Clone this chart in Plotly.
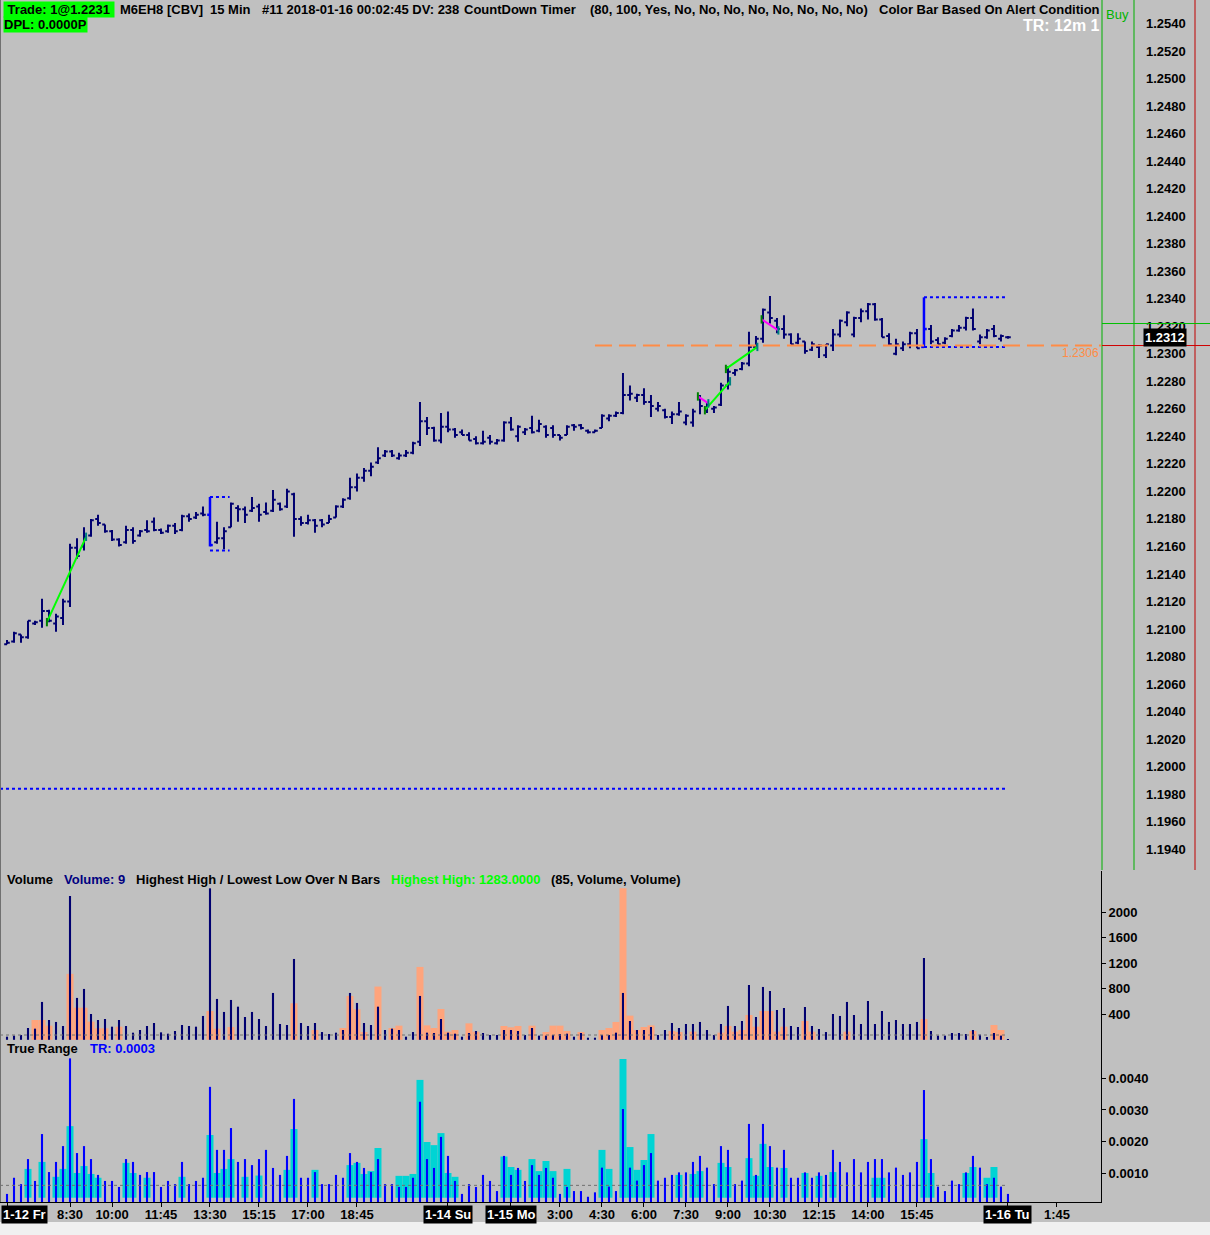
import plotly.graph_objects as go

# ---------------- data ----------------
bars = list(range(144))

opens = [
1.2089,1.2091,1.2096,1.2094,1.2104,1.2106,1.2113,1.2104,1.2108,1.2120,
1.2159,1.2160,1.2168,1.2180,1.2176,1.2171,1.2165,1.2163,1.2172,1.2168,
1.2172,1.2178,1.2172,1.2171,1.2175,1.2172,1.2182,1.2181,1.2184,1.2183,
1.2163,1.2166,1.2174,1.2188,1.2187,1.2186,1.2189,1.2185,1.2186,1.2191,
1.2189,1.2198,1.2180,1.2177,1.2179,1.2179,1.2177,1.2181,1.2189,1.2195,
1.2203,1.2210,1.2215,1.2221,1.2226,1.2229,1.2224,1.2226,1.2228,1.2236,
1.2251,1.2246,1.2237,1.2247,1.2245,1.2243,1.2241,1.2238,1.2235,1.2239,
1.2235,1.2237,1.2250,1.2240,1.2243,1.2246,1.2244,1.2247,1.2246,1.2241,
1.2241,1.2248,1.2248,1.2244,1.2243,1.2246,1.2253,1.2255,1.2257,1.2270,
1.2268,1.2270,1.2265,1.2260,1.2259,1.2254,1.2256,1.2250,1.2250,1.2269,
1.2259,1.2260,1.2263,1.2277,1.2286,1.2289,1.2293,1.2305,1.2311,1.2330,
1.2324,1.2318,1.2314,1.2308,1.2309,1.2303,1.2305,1.2299,1.2306,1.2314,
1.2323,1.2314,1.2326,1.2331,1.2336,1.2325,1.2313,1.2300,1.2304,1.2307,
1.2315,1.2305,1.2318,1.2310,1.2308,1.2313,1.2317,1.2319,1.2326,1.2309,
1.2312,1.2318,1.2311,1.2312]
highs = [
1.2092,1.2098,1.2096,1.2106,1.2106,1.2122,1.2114,1.2111,1.2122,1.2162,
1.2166,1.2174,1.2180,1.2183,1.2176,1.2172,1.2166,1.2175,1.2174,1.2172,
1.2179,1.2181,1.2173,1.2176,1.2177,1.2183,1.2184,1.2185,1.2189,1.2196,
1.2178,1.2174,1.2192,1.2190,1.2189,1.2196,1.2191,1.2192,1.2201,1.2192,
1.2202,1.2199,1.2182,1.2183,1.2180,1.2180,1.2183,1.2190,1.2195,1.2210,
1.2213,1.2217,1.2221,1.2232,1.2230,1.2230,1.2228,1.2230,1.2236,1.2265,
1.2254,1.2247,1.2257,1.2258,1.2246,1.2245,1.2243,1.2240,1.2244,1.2241,
1.2238,1.2251,1.2254,1.2248,1.2246,1.2255,1.2252,1.2248,1.2248,1.2241,
1.2248,1.2249,1.2249,1.2245,1.2245,1.2256,1.2256,1.2258,1.2286,1.2277,
1.2271,1.2275,1.2270,1.2265,1.2260,1.2258,1.2265,1.2256,1.2260,1.2270,
1.2265,1.2262,1.2279,1.2291,1.2289,1.2294,1.2316,1.2313,1.2333,1.2342,
1.2326,1.2328,1.2315,1.2315,1.2309,1.2309,1.2307,1.2307,1.2318,1.2325,
1.2331,1.2327,1.2333,1.2337,1.2337,1.2326,1.2315,1.2311,1.2309,1.2316,
1.2318,1.2341,1.2321,1.2312,1.2312,1.2318,1.2321,1.2327,1.2333,1.2314,
1.2318,1.2321,1.2314,1.2313]
lows = [
1.2089,1.2090,1.2090,1.2093,1.2103,1.2101,1.2105,1.2098,1.2103,1.2116,
1.2151,1.2157,1.2167,1.2175,1.2170,1.2164,1.2160,1.2162,1.2162,1.2167,
1.2170,1.2171,1.2169,1.2170,1.2169,1.2171,1.2178,1.2180,1.2182,1.2160,
1.2162,1.2158,1.2174,1.2178,1.2177,1.2185,1.2178,1.2183,1.2185,1.2186,
1.2188,1.2167,1.2175,1.2176,1.2170,1.2174,1.2177,1.2181,1.2188,1.2194,
1.2200,1.2207,1.2211,1.2220,1.2225,1.2225,1.2223,1.2225,1.2227,1.2233,
1.2241,1.2236,1.2235,1.2243,1.2239,1.2241,1.2237,1.2234,1.2234,1.2234,
1.2234,1.2236,1.2244,1.2236,1.2241,1.2242,1.2243,1.2239,1.2239,1.2237,
1.2241,1.2244,1.2245,1.2242,1.2243,1.2246,1.2251,1.2254,1.2256,1.2266,
1.2265,1.2263,1.2254,1.2258,1.2253,1.2249,1.2255,1.2248,1.2247,1.2256,
1.2257,1.2257,1.2262,1.2274,1.2284,1.2288,1.2291,1.2304,1.2308,1.2322,
1.2315,1.2311,1.2307,1.2307,1.2300,1.2302,1.2297,1.2297,1.2302,1.2312,
1.2320,1.2312,1.2323,1.2325,1.2324,1.2312,1.2306,1.2299,1.2302,1.2304,
1.2304,1.2305,1.2307,1.2307,1.2307,1.2312,1.2316,1.2317,1.2317,1.2307,
1.2311,1.2312,1.2309,1.2311]
closes = [
1.2090,1.2097,1.2094,1.2106,1.2105,1.2113,1.2106,1.2109,1.2120,1.2159,
1.2153,1.2167,1.2179,1.2177,1.2171,1.2165,1.2161,1.2172,1.2164,1.2171,
1.2171,1.2172,1.2170,1.2175,1.2171,1.2182,1.2180,1.2183,1.2183,1.2161,
1.2166,1.2171,1.2191,1.2187,1.2183,1.2188,1.2183,1.2184,1.2194,1.2187,
1.2200,1.2180,1.2177,1.2179,1.2175,1.2176,1.2180,1.2189,1.2194,1.2203,
1.2210,1.2215,1.2218,1.2224,1.2229,1.2226,1.2226,1.2228,1.2235,1.2251,
1.2246,1.2237,1.2247,1.2245,1.2241,1.2241,1.2237,1.2235,1.2236,1.2236,
1.2237,1.2250,1.2245,1.2247,1.2245,1.2243,1.2249,1.2241,1.2241,1.2239,
1.2247,1.2247,1.2246,1.2243,1.2244,1.2255,1.2255,1.2257,1.2270,1.2271,
1.2270,1.2265,1.2262,1.2262,1.2254,1.2256,1.2258,1.2255,1.2258,1.2262,
1.2263,1.2261,1.2277,1.2287,1.2288,1.2293,1.2305,1.2311,1.2332,1.2326,
1.2318,1.2314,1.2307,1.2311,1.2302,1.2307,1.2306,1.2307,1.2314,1.2324,
1.2330,1.2326,1.2331,1.2336,1.2325,1.2312,1.2307,1.2307,1.2307,1.2315,
1.2304,1.2318,1.2309,1.2307,1.2311,1.2317,1.2319,1.2326,1.2318,1.2312,
1.2317,1.2313,1.2313,1.2312]
alert_bars = [29, 131]          # bars painted blue

volume = [
49,65,75,185,175,594,311,280,217,2256,
657,798,405,311,326,206,311,217,112,154,
217,264,117,96,138,232,217,206,374,2376,
641,437,625,520,358,437,326,217,735,248,
232,1268,264,217,264,122,91,112,154,735,
578,264,232,520,154,175,154,49,122,688,
112,107,326,112,96,49,107,138,107,75,
75,154,154,138,75,185,65,65,75,91,
96,49,107,33,33,75,75,112,735,295,
154,154,201,75,154,264,185,248,248,280,
154,75,248,531,217,295,860,358,829,766,
468,499,217,201,515,217,170,122,405,374,
594,389,248,609,248,452,280,311,248,248,
280,1283,138,65,65,107,107,91,154,80,
44,107,65,9]
volume_alert = [
0,0,0,0,311,311,222,0,0,1034,
504,504,285,180,180,0,206,0,0,0,
0,0,0,0,0,0,0,0,0,452,
175,0,201,0,0,0,0,0,0,0,
0,573,0,0,154,0,0,0,185,688,
478,122,0,835,0,185,222,0,0,1143,
227,185,483,128,154,0,258,128,0,0,
0,217,196,217,0,222,0,122,222,222,
138,0,122,0,0,154,185,280,2376,379,
154,201,227,0,0,138,122,0,128,0,
0,0,112,217,128,154,389,206,452,452,
128,206,0,0,295,128,0,0,0,0,
128,0,0,0,0,0,0,0,0,0,
0,326,0,0,0,0,0,0,138,0,
0,232,154,0]
true_range = [
0.00035,0.00086,0.00066,0.00145,0.00076,0.00224,0.00104,0.00136,0.00186,0.00463,
0.00164,0.00186,0.00145,0.00095,0.00076,0.00076,0.00057,0.00145,0.00136,0.00095,
0.00104,0.00104,0.00057,0.00076,0.00066,0.00136,0.00066,0.00076,0.00086,0.00373,
0.00174,0.00174,0.00243,0.00136,0.00145,0.00126,0.00145,0.00174,0.00117,0.00095,
0.00155,0.00335,0.00086,0.00086,0.00104,0.00066,0.00066,0.00095,0.00086,0.00164,
0.00136,0.00117,0.00104,0.00145,0.00066,0.00066,0.00057,0.00057,0.00086,0.00326,
0.00145,0.00117,0.00215,0.00155,0.00076,0.00035,0.00066,0.00057,0.00095,0.00076,
0.00044,0.00155,0.00095,0.00117,0.00076,0.00126,0.00095,0.00117,0.00086,0.00035,
0.00057,0.00044,0.00044,0.00026,0.00040,0.00118,0.00058,0.00044,0.00303,0.00118,
0.00077,0.00126,0.00164,0.00077,0.00086,0.00095,0.00103,0.00103,0.00136,0.00155,
0.00118,0.00066,0.00186,0.00174,0.00066,0.00077,0.00256,0.00095,0.00256,0.00186,
0.00118,0.00174,0.00086,0.00086,0.00103,0.00086,0.00103,0.00095,0.00174,0.00136,
0.00103,0.00145,0.00103,0.00136,0.00145,0.00145,0.00103,0.00118,0.00095,0.00103,
0.00136,0.00363,0.00145,0.00058,0.00044,0.00077,0.00066,0.00103,0.00155,0.00118,
0.00066,0.00086,0.00058,0.00035]
tr_alert = [
0,0,0,0.00114,0,0.00136,0,0.00089,0.00114,0.00249,
0.00101,0.00123,0.00098,0.00086,0,0,0,0.00133,0.00101,0,
0.00086,0,0,0,0,0.00089,0,0,0,0.00221,
0.00101,0.00114,0.00145,0,0.00089,0,0.00093,0,0,0,
0.00111,0.00240,0,0,0.00111,0,0,0,0,0.00126,
0.00133,0.00098,0.00107,0.00180,0,0,0.00092,0.00092,0.00098,0.00395,
0.00199,0.00189,0.00227,0.00101,0.00089,0,0,0,0,0,
0,0.00153,0.00120,0.00111,0,0.00145,0.00107,0.00139,0.00107,0,
0.00114,0,0,0,0,0.00174,0.00114,0,0.00461,0.00183,
0.00111,0.00142,0.00224,0,0,0,0.00095,0,0.00098,0.00107,
0,0,0.00133,0.00120,0,0,0.00148,0.00092,0.00193,0.00120,
0,0.00117,0,0,0.00101,0,0.00092,0,0.00104,0,
0,0,0,0,0.00086,0.00086,0,0,0,0,
0,0.00208,0.00101,0,0,0,0,0.00101,0.00120,0,
0.00086,0.00120,0,0]
tr_alert_base = 0.00023

# trend segments (bar, price) -> (bar, price)
trend_x0 = [5.7, 99.7, 102.7, 98.7, 107.8]
trend_p0 = [1.2105, 1.2259, 1.2289, 1.2269, 1.2325]
trend_x1 = [11.3, 103.3, 107.2, 100.2, 110.2]
trend_p1 = [1.2167, 1.2280, 1.2305, 1.2264, 1.2317]
trend_col = ['green', 'green', 'green', 'magenta', 'magenta']

# dotted range boxes
box_start = [29, 131]
box_end = [31.8, 143]
box_top = [1.2196, 1.2341]
box_bottom = [1.2157, 1.2305]

support_level = 1.1984
alert_level = 1.2306
alert_level_start = 84
vol_avg = 75
tr_avg = 0.00062
last_price = 1.2312
bid_line = 1.2322
ask_line = 1.2306

price_ticks = [round(1.1940 + 0.002 * k, 4) for k in range(31)]
vol_ticks = [400, 800, 1200, 1600, 2000]
tr_ticks = [0.001, 0.002, 0.003, 0.004]

tick_bars = [0, 9, 15, 22, 29, 36, 43, 50, 63, 72, 79, 85, 91, 97, 103, 109, 116, 123, 130, 143, 150]
tick_labels = ['', '8:30', '10:00', '11:45', '13:30', '15:15', '17:00', '18:45', '', '',
               '3:00', '4:30', '6:00', '7:30', '9:00', '10:30', '12:15', '14:00', '15:45', '', '1:45']
date_bars = [63, 72, 143]
date_labels = ['1-14 Su', '1-15 Mo', '1-16 Tu']
first_date_label = '1-12 Fr'

# ---------------- styling ----------------
W, H = 1210, 1235
def px(x):
    return x / W
def py(y):
    return 1 - y / H

FONT = "Liberation Sans, Arial, sans-serif"
BG = "#C0C0C0"
NAVY = "#000070"
BLUE = "#0000FF"
XMIN, XMAX = -1.0, 156.29

fig = go.Figure()

normal = [i for i in bars if i not in alert_bars]
fig.add_trace(go.Ohlc(
    x=normal, open=[opens[i] for i in normal], high=[highs[i] for i in normal],
    low=[lows[i] for i in normal], close=[closes[i] for i in normal],
    increasing=dict(line=dict(color=NAVY, width=2)),
    decreasing=dict(line=dict(color=NAVY, width=2)),
    tickwidth=0.4, xaxis='x', yaxis='y', hoverinfo='skip', showlegend=False))

hx, hy = [], []
for i in alert_bars:
    hx += [i - 0.4, i, None, i, i, None, i, i + 0.4, None]
    hy += [opens[i], opens[i], None, highs[i], lows[i], None, closes[i], closes[i], None]
fig.add_trace(go.Scatter(x=hx, y=hy, mode='lines', line=dict(color=BLUE, width=2.5),
                         xaxis='x', yaxis='y', hoverinfo='skip', showlegend=False))

# boxes
for s, e, t, b in zip(box_start, box_end, box_top, box_bottom):
    fig.add_trace(go.Scatter(x=[s, e, None, s, e], y=[t, t, None, b, b], mode='lines',
                             line=dict(color=BLUE, width=2, dash='dot'),
                             xaxis='x', yaxis='y', hoverinfo='skip', showlegend=False))

# trend segments
colmap = {'green': '#00FF00', 'magenta': '#FF00FF'}
for col in ['green', 'magenta']:
    sx, sy = [], []
    for x0, p0, x1, p1, c in zip(trend_x0, trend_p0, trend_x1, trend_p1, trend_col):
        if c == col:
            sx += [x0, x1, None]
            sy += [p0, p1, None]
    fig.add_trace(go.Scatter(x=sx, y=sy, mode='lines', line=dict(color=colmap[col], width=2),
                             xaxis='x', yaxis='y', hoverinfo='skip', showlegend=False))
# small end markers of the trend segments
fig.add_trace(go.Scatter(x=trend_x0, y=trend_p0, mode='markers',
                         marker=dict(symbol='line-ns', size=6, line=dict(color='#008000', width=2)),
                         xaxis='x', yaxis='y', hoverinfo='skip', showlegend=False))
fig.add_trace(go.Scatter(x=trend_x1, y=trend_p1, mode='markers',
                         marker=dict(symbol='line-ns', size=6, line=dict(color='#008080', width=2)),
                         xaxis='x', yaxis='y', hoverinfo='skip', showlegend=False))

# reference lines in price pane
fig.add_trace(go.Scatter(x=[XMIN, bars[-1]], y=[support_level] * 2, mode='lines',
                         line=dict(color=BLUE, width=2, dash='dot'),
                         xaxis='x', yaxis='y', hoverinfo='skip', showlegend=False))
fig.add_trace(go.Scatter(x=[alert_level_start, XMAX], y=[alert_level] * 2, mode='lines',
                         line=dict(color='#FF8C46', width=2, dash='17px,7px'),
                         xaxis='x', yaxis='y', hoverinfo='skip', showlegend=False))

# volume pane
fig.add_trace(go.Bar(x=bars, y=volume_alert, width=1.0, marker=dict(color='#FFA47C', line=dict(width=0)),
                     xaxis='x', yaxis='y2', hoverinfo='skip', showlegend=False))
fig.add_trace(go.Bar(x=bars, y=volume, width=0.3, marker=dict(color=NAVY, line=dict(width=0)),
                     xaxis='x', yaxis='y2', hoverinfo='skip', showlegend=False))
fig.add_trace(go.Scatter(x=[XMIN, bars[-1]], y=[vol_avg] * 2, mode='lines',
                         line=dict(color='#707070', width=1, dash='dot'),
                         xaxis='x', yaxis='y2', hoverinfo='skip', showlegend=False))

# true range pane
fig.add_trace(go.Bar(x=bars, y=[(v - tr_alert_base) if v else None for v in tr_alert],
                     base=tr_alert_base, width=1.0, marker=dict(color='#00D4D4', line=dict(width=0)),
                     xaxis='x', yaxis='y3', hoverinfo='skip', showlegend=False))
fig.add_trace(go.Bar(x=bars, y=true_range, width=0.3, marker=dict(color=BLUE, line=dict(width=0)),
                     xaxis='x', yaxis='y3', hoverinfo='skip', showlegend=False))
fig.add_trace(go.Scatter(x=[XMIN, bars[-1]], y=[tr_avg] * 2, mode='lines',
                         line=dict(color='#707070', width=1, dash='dot'),
                         xaxis='x', yaxis='y3', hoverinfo='skip', showlegend=False))

bold13 = dict(family=FONT, size=13, color='black', weight='bold')

shapes = [
    # light status strip at bottom
    dict(type='rect', xref='paper', yref='paper', x0=0, x1=1, y0=0, y1=py(1222),
         fillcolor='#F0F0F0', line=dict(width=0), layer='below'),
    # left border
    dict(type='line', xref='paper', yref='paper', x0=px(0.5), x1=px(0.5), y0=py(1202), y1=1,
         line=dict(color='#707070', width=1)),
    # right side vertical lines of the price pane
    dict(type='line', xref='paper', yref='paper', x0=px(1102), x1=px(1102), y0=py(870), y1=1,
         line=dict(color='#00B000', width=1)),
    dict(type='line', xref='paper', yref='paper', x0=px(1134), x1=px(1134), y0=py(870), y1=1,
         line=dict(color='#00B000', width=1)),
    dict(type='line', xref='paper', yref='paper', x0=px(1195), x1=px(1195), y0=py(870), y1=1,
         line=dict(color='#C00000', width=1)),
    dict(type='line', xref='paper', yref='paper', x0=px(1101.5), x1=px(1101.5), y0=py(1202), y1=py(871),
         line=dict(color='black', width=1)),
    # bid / ask lines on the price scale
    dict(type='line', xref='paper', yref='y', x0=px(1102), x1=1, y0=bid_line, y1=bid_line,
         line=dict(color='#00C000', width=1)),
    dict(type='line', xref='paper', yref='y', x0=px(1102), x1=1, y0=ask_line, y1=ask_line,
         line=dict(color='#D00000', width=1)),
]

def ann(text, x, y, xanchor='left', yanchor='middle', font=None, bg=None, xref='paper', pad=0):
    d = dict(text=text, x=x, y=y, xref=xref, yref='paper', xanchor=xanchor, yanchor=yanchor,
             showarrow=False, font=font or bold13, borderpad=pad, align='left')
    if bg:
        d['bgcolor'] = bg
    return d

NB = '\u00a0'
annotations = [
    ann(NB + 'Trade: 1@1.2231' + NB, px(3), py(10), bg='#00FF00'),
    ann('DPL: 0.0000P', px(3), py(25), bg='#00FF00'),
    ann('M6EH8 [CBV]', px(119), py(10)),
    ann('15 Min', px(209), py(10)),
    ann('#11 2018-01-16 00:02:45 DV: 238', px(261), py(10)),
    ann('CountDown Timer', px(463), py(10)),
    ann('(80, 100, Yes, No, No, No, No, No, No, No, No)', px(589), py(10)),
    ann('Color Bar Based On Alert Condition', px(878), py(10)),
    ann('Buy', px(1105), py(14), font=dict(family=FONT, size=13, color='#00B400')),
    ann('TR: 12m 1', px(1101), py(26), xanchor='right',
        font=dict(family=FONT, size=16, color='white', weight='bold')),
    ann('1.2312', px(1164.5), py(337.5), xanchor='center', bg='black',
        font=dict(family=FONT, size=13, color='white', weight='bold'), pad=1),
    ann('1.2306', px(1100), py(353), xanchor='right', font=dict(family=FONT, size=12, color='#FF8C46')),
    # volume pane title
    ann('Volume', px(6), py(880)),
    ann('Volume: 9', px(63), py(880), font=dict(family=FONT, size=13, color='#000080', weight='bold')),
    ann('Highest High / Lowest Low Over N Bars', px(135), py(880)),
    ann('Highest High: 1283.0000', px(390), py(880),
        font=dict(family=FONT, size=13, color='#00FF00', weight='bold')),
    ann('(85, Volume, Volume)', px(550), py(880)),
    # true range title
    ann('True Range', px(6), py(1048)),
    ann('TR: 0.0003', px(89), py(1048), font=dict(family=FONT, size=13, color='#0000FF', weight='bold')),
    ann(first_date_label, px(1), py(1214), bg='black',
        font=dict(family=FONT, size=13, color='white', weight='bold'), pad=1),
]
for b, lab in zip(date_bars, date_labels):
    annotations.append(ann(lab, b, py(1214), xanchor='center', xref='x', bg='black',
                           font=dict(family=FONT, size=13, color='white', weight='bold'), pad=1))

fig.update_layout(
    width=W, height=H, autosize=False,
    margin=dict(l=0, r=0, t=0, b=0),
    paper_bgcolor=BG, plot_bgcolor=BG,
    barmode='overlay', showlegend=False,
    font=dict(family=FONT, size=13, color='black'),
    xaxis=dict(domain=[0, px(1101)], range=[XMIN, XMAX], anchor='y3',
               showline=True, linecolor='black', linewidth=1, ticks='outside', ticklen=4,
               tickcolor='black', tickvals=tick_bars, ticktext=tick_labels, tickfont=bold13,
               ticklabelstandoff=-4,
               showgrid=False, zeroline=False, rangeslider=dict(visible=False), fixedrange=True),
    yaxis=dict(domain=[py(870), 1], range=[1.192487, 1.25571], anchor='free', position=px(1134),
               side='right', tickvals=price_ticks, tickformat='.4f', ticks='', ticklabelstandoff=11,
               showline=False, showgrid=False, zeroline=False, tickfont=bold13, fixedrange=True),
    yaxis2=dict(domain=[py(1040), py(872)], range=[-3, 2632], anchor='x', side='right',
                showline=True, linecolor='black', ticks='outside', ticklen=4, tickcolor='black',
                tickvals=vol_ticks, showgrid=False, zeroline=False, tickfont=bold13, fixedrange=True),
    yaxis3=dict(domain=[py(1202), py(1041)], range=[0.0000947, 0.005178], anchor='x', side='right',
                showline=True, linecolor='black', ticks='outside', ticklen=4, tickcolor='black',
                tickvals=tr_ticks, tickformat='.4f', showgrid=False, zeroline=False,
                tickfont=bold13, fixedrange=True),
    shapes=shapes, annotations=annotations,
)

fig.write_html("out.html", config={'displayModeBar': False},
               post_script="document.body.style.margin='0';")
